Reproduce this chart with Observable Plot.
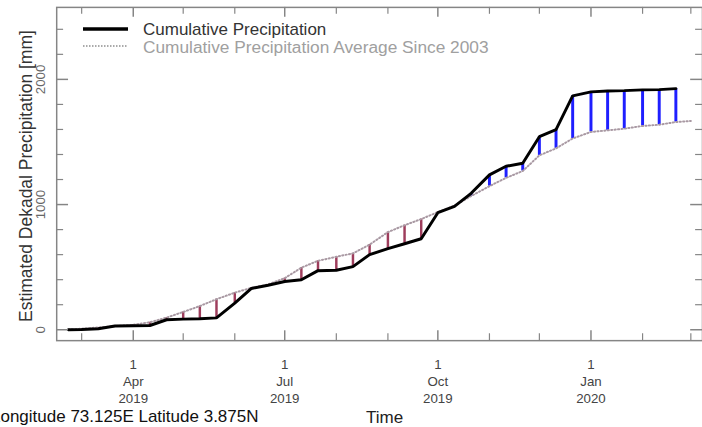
<!DOCTYPE html>
<html><head><meta charset="utf-8">
<script src="https://cdn.jsdelivr.net/npm/d3@7"></script>
<script src="https://cdn.jsdelivr.net/npm/@observablehq/plot@0.6"></script>
<style>
html,body{margin:0;padding:0;overflow:hidden;background:#fff;width:702px;height:427px;}
#wrap{position:relative;width:702px;height:427px;font-family:"Liberation Sans",Arial,sans-serif;}
#wrap svg{position:absolute;left:0;top:0;}
.abs{position:absolute;white-space:nowrap;line-height:1;}
</style></head><body><div id="wrap"></div>
<script>
// ---- data ----
const dekads = ["2019-02-21","2019-03-01","2019-03-11","2019-03-21","2019-04-01","2019-04-11","2019-04-21",
  "2019-05-01","2019-05-11","2019-05-21","2019-06-01","2019-06-11","2019-06-21","2019-07-01","2019-07-11",
  "2019-07-21","2019-08-01","2019-08-11","2019-08-21","2019-09-01","2019-09-11","2019-09-21","2019-10-01",
  "2019-10-11","2019-10-21","2019-11-01","2019-11-11","2019-11-21","2019-12-01","2019-12-11","2019-12-21",
  "2020-01-01","2020-01-11","2020-01-21","2020-02-01","2020-02-11","2020-02-21"];
const actual = [0,2,8,30,32,34,80,85,88,95,212,330,355,385,400,472,475,504,600,648,687,727,935,
  985,1090,1237,1306,1330,1542,1598,1868,1900,1907,1910,1916,1918,1926];
const averageDates = [...dekads, "2020-03-01"];
const average = [2,8,18,28,40,60,97,142,189,244,296,335,362,412,496,551,583,610,680,780,835,884,940,
  992,1068,1147,1213,1268,1393,1449,1528,1580,1593,1606,1628,1638,1659,1668];
const quarterTicks = ["2019-04-01","2019-07-01","2019-10-01","2020-01-01"];
const monthTicks = ["2019-03-01","2019-05-01","2019-06-01","2019-08-01","2019-09-01","2019-11-01",
  "2019-12-01","2020-02-01","2020-03-01"];
const yMajor = [0,1000,2000];
const yMinor = [200,400,600,800,1200,1400,1600,1800,2200,2400];
const legendLabels = ["Cumulative Precipitation","Cumulative Precipitation Average Since 2003"];
const yTitle = "Estimated Dekadal Precipitation [mm]";
const xTitle = "Time";
const caption = "Longitude 73.125E Latitude 3.875N";

// ---- build ----
const parse = s => new Date(s);
const rows = dekads.map((d,i)=>({date: parse(d), actual: actual[i], avg: average[i]}));
const avgRows = averageDates.map((d,i)=>({date: parse(d), avg: average[i]}));
const W = 712, H = 427, ML = 57, MR = 0, MT = 7, MB = 82;
const PW = W-ML-MR, PH = H-MT-MB;
const fmt = d3.utcFormat("%-d\n%b\n%Y");
const tickC = "#858585";

const chart = Plot.plot({
  width: W, height: H, marginLeft: ML, marginRight: MR, marginTop: MT, marginBottom: MB,
  style: {fontFamily: '"Liberation Sans",Arial,sans-serif', background: "transparent", overflow: "visible"},
  x: {type: "utc", domain: [parse("2019-02-14"), parse("2020-03-08")]},
  y: {domain: [-87, 2575]},
  marks: [
    Plot.ruleX(rows.filter(r=>r.actual<r.avg), {x:"date", y1:"avg", y2:"actual", stroke:"#9e3d5c", strokeWidth:2.5}),
    Plot.ruleX(rows.filter(r=>r.actual>=r.avg), {x:"date", y1:"avg", y2:"actual", stroke:"#1f1fff", strokeWidth:3}),
    Plot.line(avgRows, {x:"date", y:"avg", stroke:"#a999a3", strokeWidth:2, strokeDasharray:"1.2,2.3"}),
    Plot.line(rows, {x:"date", y:"actual", stroke:"#000", strokeWidth:3, strokeLinejoin:"miter"}),
    Plot.frame({stroke:tickC, strokeWidth:1.5}),
    Plot.tickX(quarterTicks.map(parse), {stroke:tickC, strokeWidth:1.5, insetTop: PH-10}),
    Plot.tickX(monthTicks.map(parse), {stroke:tickC, strokeWidth:1.2, insetTop: PH-7}),
    Plot.tickX(quarterTicks.map(parse), {stroke:tickC, strokeWidth:1.5, insetBottom: PH-10}),
    Plot.tickX(monthTicks.map(parse), {stroke:tickC, strokeWidth:1.2, insetBottom: PH-7}),
    Plot.tickY(yMajor, {stroke:tickC, strokeWidth:1.5, insetRight: PW-12}),
    Plot.tickY(yMinor, {stroke:tickC, strokeWidth:1.2, insetRight: PW-7}),
    Plot.tickY(yMajor, {stroke:tickC, strokeWidth:1.5, insetLeft: PW-12}),
    Plot.tickY(yMinor, {stroke:tickC, strokeWidth:1.2, insetLeft: PW-7}),
    Plot.axisX(quarterTicks.map(parse), {tickSize:0, tickPadding:16, tickFormat: fmt, fontSize:13.5, lineHeight:1.28, fill:"#444", label:null}),
    Plot.axisY(yMajor, {tickSize:0, tickPadding:12, tickRotate:-90, tickFormat: d3.format("d"), fontSize:13.5, fill:"#666", label:null})
  ]
});
const wrap = document.getElementById("wrap");
wrap.appendChild(chart);

function addText(txt, css){
  const d = document.createElement("div");
  d.className = "abs"; d.textContent = txt; d.style.cssText += css; wrap.appendChild(d); return d;
}
// y title
addText(yTitle, "left:27px;top:176px;font-size:17.5px;color:#333;transform:translate(-50%,-50%) rotate(-90deg);");
// x title and caption
addText(xTitle, "left:366px;top:409px;font-size:17px;color:#222;");
addText(caption, "left:-9px;top:408px;font-size:17px;color:#111;");
// legend
const leg = document.createElement("div");
leg.className = "abs";
leg.style.cssText = "left:83px;top:19px;";
leg.innerHTML =
  `<svg width="50" height="40" style="position:absolute;left:0;top:0">
     <line x1="0" x2="45" y1="10" y2="10" stroke="#000" stroke-width="3.5"/>
     <line x1="0" x2="45" y1="27" y2="27" stroke="#aaa" stroke-width="2" stroke-dasharray="1.5,1.5"/>
   </svg>`;
wrap.appendChild(leg);
addText(legendLabels[0], "left:143px;top:21px;font-size:17px;color:#333;");
addText(legendLabels[1], "left:143px;top:39px;font-size:17.3px;color:#a0a0a0;");
</script>
</body></html>
